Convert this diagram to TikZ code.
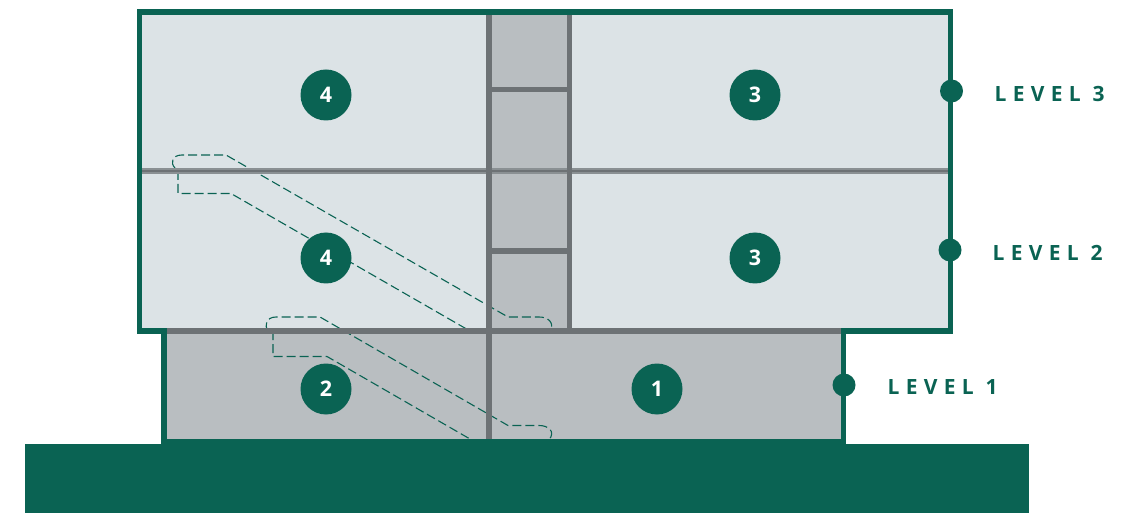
\documentclass[tikz,border=0pt]{standalone}
\usepackage{fontspec}
\setmainfont{Open Sans}
\newfontfamily\levelfont[LetterSpace=30]{Open Sans}
\definecolor{wallgreen}{HTML}{0A6353}
\definecolor{roomlight}{HTML}{DCE3E6}
\definecolor{roomgray}{HTML}{B9BEC1}
\definecolor{beamgray}{HTML}{6D7275}
\definecolor{floorgray}{HTML}{8A9093}
\tikzset{
    wall/.style={draw=wallgreen,line width=5.4pt,miter limit=10},
    beam/.style={draw=beamgray,line width=5.2pt},
    stair/.style={draw=wallgreen,line width=1.1pt,dash pattern=on 9pt off 4pt},
    badge/.style={circle,fill=wallgreen,text=white,minimum size=51pt,inner sep=0pt,font=\bfseries\fontsize{21.5}{21.5}\selectfont},
    leveldot/.style={circle,fill=wallgreen,minimum size=23pt,inner sep=0pt},
    levellabel/.style={text=wallgreen,inner sep=0pt,font=\levelfont\bfseries\fontsize{21}{21}\selectfont}
}
\begin{document}
\begin{tikzpicture}[x=1pt,y=-1pt]
\useasboundingbox (0,0) rectangle (1144,513);

\fill [roomlight] (139.5,12) rectangle (950.5,331);
\fill [roomgray] (489,12) rectangle (569.5,331);
\fill [roomgray] (164,331) rectangle (843.5,441.5);

% upper escalator
\draw [stair] (175,168) .. controls (170,163) and (172,155) .. (182,155)
    -- (226,155) -- (508,317) -- (539,317)
    .. controls (548,317) and (554,322) .. (551,331);
\draw [stair] (178,171) -- (178,193.5) -- (231,193.5) -- (470,331);
% lower escalator
\draw [stair] (268,331) .. controls (264,326) and (266,317) .. (276,317)
    -- (320,317) -- (508,425.5) -- (539,425.5)
    .. controls (548,425.5) and (556,431) .. (549,440);
\draw [stair] (273,331) -- (273,356.5) -- (327,356.5) -- (470,439);

\draw [beam,draw=floorgray] (142,171) -- (948,171);
\draw [beam,line width=2.4pt] (142,171) -- (948,171);
\draw [beam] (166,331) -- (841,331);
\draw [beam] (489,14) -- (489,439);
\draw [beam] (569.5,14) -- (569.5,331);
\foreach \y in {89.5,251}{
    \draw [beam] (489,\y) -- (569.5,\y);
}

\draw [wall] (139.5,12) -- (950.5,12) -- (950.5,331) -- (843.5,331) -- (843.5,441.5)
    -- (164,441.5) -- (164,331) -- (139.5,331) -- cycle;
\fill [wallgreen] (25,444) rectangle (1029,513);

\foreach \name/\x/\y/\txt in {upleft/326/95/4,upright/755/95/3,midleft/326/258/4,
    midright/755/258/3,lowleft/326/389/2,lowright/657/389/1}{
    \node [badge] (\name) at (\x,\y) {\txt};
}

\node [leveldot] (dotc) at (951.5,91) {};
\node [leveldot] (dotb) at (950,250) {};
\node [leveldot] (dota) at (844,385) {};
\node [levellabel,anchor=west] (levelc) at (994.5,94) {LEVEL 3};
\node [levellabel,anchor=west] (levelb) at (992.5,253) {LEVEL 2};
\node [levellabel,anchor=west] (levela) at (887.5,387) {LEVEL 1};
\end{tikzpicture}
\end{document}
